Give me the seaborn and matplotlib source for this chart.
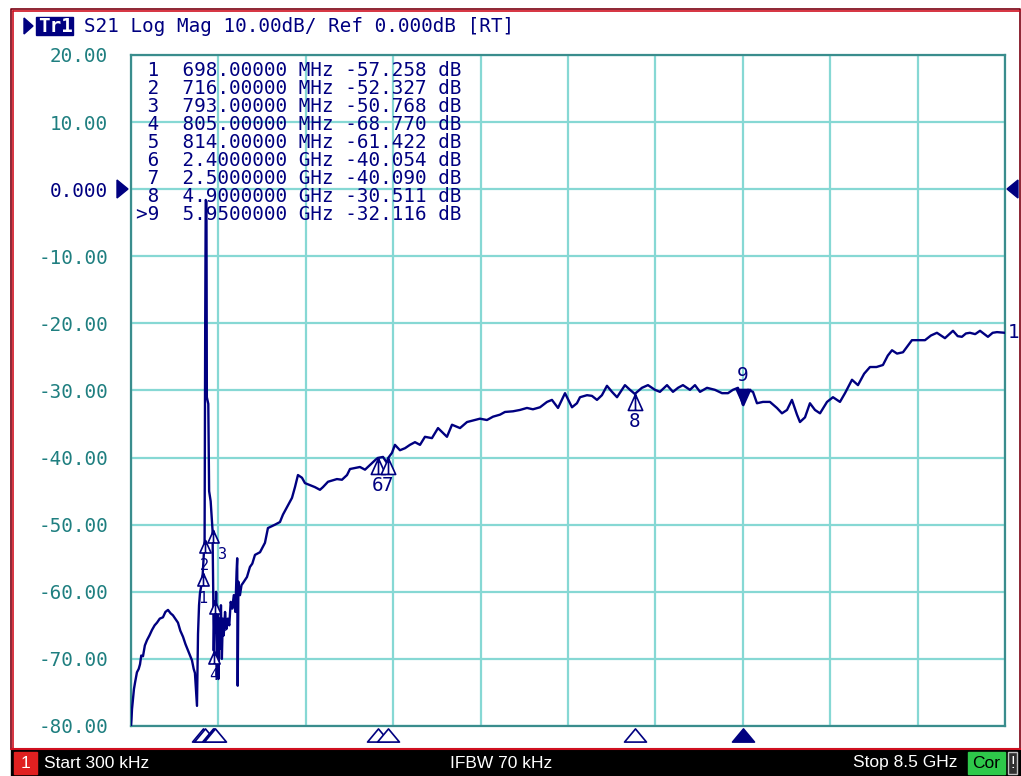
import numpy as np
import pandas as pd
import matplotlib.pyplot as plt
import seaborn as sns
import matplotlib.transforms as mtransforms
from matplotlib.path import Path
from matplotlib.patches import Rectangle, Polygon

# S21 trace (GHz, dB)
freq_ghz = [0.0003, 0.005, 0.010, 0.020, 0.029, 0.040, 0.058, 0.075, 0.088, 0.100,
            0.117, 0.135, 0.156, 0.180, 0.204, 0.230, 0.253, 0.280, 0.311, 0.335,
            0.360, 0.385, 0.408, 0.430, 0.457, 0.480, 0.506, 0.530, 0.554, 0.575,
            0.593, 0.610, 0.622, 0.632, 0.642, 0.648, 0.652, 0.662, 0.671, 0.685,
            0.698, 0.716, 0.722, 0.727, 0.734, 0.738, 0.752, 0.760, 0.775, 0.793,
            0.800, 0.805, 0.814, 0.822, 0.828, 0.835, 0.842, 0.850, 0.858, 0.866,
            0.875, 0.884, 0.893, 0.902, 0.915, 0.928, 0.942, 0.956, 0.970, 0.985,
            1.000, 1.015, 1.027, 1.033, 1.038, 1.045, 1.060, 1.075, 1.089, 1.128,
            1.157, 1.180, 1.206, 1.255, 1.303, 1.332, 1.400, 1.449, 1.478, 1.527,
            1.566, 1.595, 1.624, 1.663, 1.692, 1.741, 1.789, 1.838, 1.867, 1.916,
            2.003, 2.052, 2.101, 2.130, 2.227, 2.276, 2.324, 2.380, 2.400, 2.451,
            2.490, 2.500, 2.538, 2.567, 2.616, 2.665, 2.713, 2.762, 2.811, 2.859,
            2.927, 2.986, 3.073, 3.122, 3.200, 3.268, 3.345, 3.394, 3.462, 3.521,
            3.589, 3.637, 3.715, 3.783, 3.851, 3.909, 3.978, 4.046, 4.094, 4.153,
            4.221, 4.289, 4.337, 4.367, 4.435, 4.483, 4.532, 4.580, 4.629, 4.678,
            4.727, 4.804, 4.853, 4.900, 4.969, 5.028, 5.096, 5.144, 5.213, 5.271,
            5.320, 5.368, 5.436, 5.485, 5.534, 5.602, 5.679, 5.748, 5.806, 5.854,
            5.903, 5.930, 5.950, 5.975, 6.000, 6.049, 6.088, 6.146, 6.214, 6.282,
            6.331, 6.380, 6.428, 6.477, 6.506, 6.555, 6.603, 6.652, 6.701, 6.769,
            6.827, 6.895, 6.944, 7.012, 7.070, 7.130, 7.187, 7.250, 7.313, 7.360,
            7.401, 7.450, 7.508, 7.595, 7.722, 7.780, 7.838, 7.916, 7.994, 8.040,
            8.081, 8.120, 8.159, 8.210, 8.257, 8.334, 8.380, 8.422, 8.500]
s21_db = [-80.0, -79.0, -77.5, -76.0, -74.5, -73.5, -72.0, -71.5, -70.8, -69.5,
          -69.6, -68.0, -67.2, -66.5, -65.7, -65.0, -64.6, -64.0, -63.8, -63.0,
          -62.7, -63.2, -63.5, -64.0, -64.6, -65.8, -66.7, -67.8, -68.7, -69.5,
          -70.2, -71.5, -72.1, -74.6, -77.0, -70.0, -66.3, -62.0, -60.2, -59.0,
          -57.258, -52.327, -20.0, -1.6, -1.8, -31.0, -32.0, -45.0, -46.5, -50.768,
          -60.0, -68.770, -61.422, -66.0, -60.0, -72.5, -63.0, -73.0, -64.0, -68.5,
          -62.0, -70.0, -64.0, -66.5, -63.0, -65.5, -64.0, -65.0, -61.5, -62.5,
          -60.5, -63.0, -57.0, -55.0, -74.0, -58.5, -60.5, -59.0, -58.7, -57.8,
          -56.3, -55.8, -54.5, -54.1, -52.7, -50.5, -50.0, -49.6, -48.5, -47.1,
          -46.0, -44.4, -42.6, -43.0, -43.8, -44.1, -44.4, -44.8, -44.4, -43.6,
          -43.2, -43.3, -42.6, -41.7, -41.4, -41.8, -41.1, -40.3, -40.054, -39.9,
          -40.8, -40.090, -39.3, -38.1, -38.9, -38.6, -38.1, -37.7, -38.1, -36.9,
          -37.1, -35.6, -36.9, -35.1, -35.6, -34.7, -34.4, -34.2, -34.4, -33.9,
          -33.6, -33.2, -33.1, -32.9, -32.6, -32.8, -32.5, -31.7, -31.4, -32.6,
          -30.4, -32.5, -31.9, -31.0, -30.7, -30.8, -31.4, -30.7, -29.3, -30.2,
          -31.0, -29.2, -29.9, -30.511, -29.6, -29.2, -29.9, -30.2, -29.2, -30.2,
          -29.6, -29.2, -29.9, -29.2, -30.2, -29.6, -29.9, -30.4, -30.4, -29.9,
          -29.6, -31.0, -32.116, -30.8, -29.9, -30.2, -31.9, -31.7, -31.7, -32.6,
          -33.4, -32.9, -31.4, -33.6, -34.7, -34.0, -31.9, -32.9, -33.4, -31.7,
          -31.0, -31.7, -30.4, -28.4, -29.2, -27.5, -26.5, -26.5, -26.2, -24.8,
          -24.0, -24.5, -24.3, -22.5, -22.5, -21.8, -21.4, -22.2, -21.1, -21.9,
          -22.0, -21.5, -21.4, -21.6, -21.1, -22.0, -21.4, -21.3, -21.4]

# marker table
marker_ids = ['1', '2', '3', '4', '5', '6', '7', '8', '9']
marker_freq = [0.698, 0.716, 0.793, 0.805, 0.814, 2.4, 2.5, 4.9, 5.95]
marker_db = [-57.258, -52.327, -50.768, -68.770, -61.422, -40.054, -40.090, -30.511, -32.116]
active_marker = '9'

start_ghz, stop_ghz = 0.0003, 8.5
y_ticks = [20, 10, 0, -10, -20, -30, -40, -50, -60, -70, -80]
y_tick_labels = ['20.00', '10.00', '0.000', '-10.00', '-20.00', '-30.00',
                 '-40.00', '-50.00', '-60.00', '-70.00', '-80.00']

NAVY = '#000080'
TEAL_TXT = '#1f7f80'
GRID = '#86d8d4'
SPINE = '#3a8d8d'
MONO = 13.9

sns.set_style('white')
plt.rcParams['font.family'] = ['DejaVu Sans Mono', 'DejaVu Sans']

W, H = 1021, 776
fig = plt.figure(figsize=(W / 100, H / 100), dpi=100)
fig.patch.set_facecolor('white')

L, T, R, B = 131, 55, 1005, 726
ax = fig.add_axes([L / W, 1 - B / H, (R - L) / W, (B - T) / H])

trace = pd.DataFrame({'Frequency (GHz)': freq_ghz, 'S21 (dB)': s21_db})
sns.lineplot(data=trace, x='Frequency (GHz)', y='S21 (dB)', ax=ax, color=NAVY,
             lw=1.7, estimator=None, sort=False, zorder=5)

ax.set_xlim(start_ghz, stop_ghz)
ax.set_ylim(-80, 20)
ax.set_xticks(np.linspace(start_ghz, stop_ghz, 11))
ax.set_xticklabels([])
ax.set_yticks(y_ticks)
ax.set_yticklabels(y_tick_labels)
ax.tick_params(axis='y', length=0, pad=16.5, labelsize=MONO, labelcolor=TEAL_TXT)
ax.tick_params(axis='x', length=0)
ax.grid(True, color=GRID, lw=1.6)
ax.set_xlabel('')
ax.set_ylabel('')
for s in ax.spines.values():
    s.set_color(SPINE)
    s.set_linewidth(1.6)
for lbl in ax.get_yticklabels():
    if lbl.get_text() == '0.000':
        lbl.set_color(NAVY)

# marker symbols on the trace
up_tri = Path([(0, 0), (-0.45, -1), (0.45, -1), (0, 0), (0, 0), (0, -1)],
              [Path.MOVETO, Path.LINETO, Path.LINETO, Path.CLOSEPOLY, Path.MOVETO, Path.LINETO])
down_tri = Path([(0, 0), (-0.45, 1), (0.45, 1), (0, 0)],
                [Path.MOVETO, Path.LINETO, Path.LINETO, Path.CLOSEPOLY])
ind_tri = Path([(0, 0.6), (-1, -0.6), (1, -0.6), (0, 0.6)],
               [Path.MOVETO, Path.LINETO, Path.LINETO, Path.CLOSEPOLY])
trans = mtransforms.blended_transform_factory(ax.transData, ax.transAxes)

for mid, f, db in zip(marker_ids, marker_freq, marker_db):
    active = mid == active_marker
    crowded = f < 1  # markers 1-5 sit on top of each other near 0.7-0.8 GHz
    ms = 18 if crowded else 23
    fs = 11 if crowded else MONO
    if active:
        ax.plot(f, db, marker=down_tri, ms=ms, mfc=NAVY, mec=NAVY, mew=1.2, zorder=6)
        ax.annotate(mid, (f, db), xytext=(0, 21), textcoords='offset points',
                    ha='center', va='center', color=NAVY, fontsize=fs, zorder=7)
    else:
        ax.plot(f, db, marker=up_tri, ms=ms, mfc='white', mec=NAVY, mew=1.2, zorder=6)
        dx = 7 if mid in ('3', '5') else 0
        ax.annotate(mid, (f, db), xytext=(dx, -18 if crowded else -20),
                    textcoords='offset points', ha='center', va='center',
                    color=NAVY, fontsize=fs, zorder=7)
    ax.plot(f, -0.0127, marker=ind_tri, ms=15.8, mfc=NAVY if active else 'white',
            mec=NAVY, mew=1.2, transform=trans, clip_on=False, zorder=6)

ax.annotate('1', (freq_ghz[-1], s21_db[-1]), xytext=(2, 0), textcoords='offset points',
            ha='left', va='center', color=NAVY, fontsize=MONO, annotation_clip=False)

# overlay in screen pixels for the instrument chrome
ov = fig.add_axes([0, 0, 1, 1], zorder=10)
ov.set_xlim(0, W)
ov.set_ylim(H, 0)
ov.axis('off')
ov.patch.set_visible(False)

for i, (mid, f, db) in enumerate(zip(marker_ids, marker_freq, marker_db)):
    prefix = '>' if mid == active_marker else ' '
    if f < 1:
        ftxt, unit = f'{f * 1000:.5f}', 'MHz'
    else:
        ftxt, unit = f'{f:.7f}', 'GHz'
    row = f'{prefix}{mid}  {ftxt} {unit} {db:.3f} dB'
    ov.text(136.4, 70 + i * 18.1, row, ha='left', va='center', color=NAVY, fontsize=MONO)

# title line
ov.add_patch(Polygon([(24, 18), (24, 34), (33, 26)], closed=True, color=NAVY))
ov.add_patch(Rectangle((36, 17), 37, 18, color=NAVY))
ov.text(38, 26, 'Tr1', ha='left', va='center', color='white', fontsize=MONO, fontweight='bold')
ov.text(84.4, 26, 'S21 Log Mag 10.00dB/ Ref 0.000dB [RT]', ha='left', va='center',
        color=NAVY, fontsize=MONO)

# window frame
ov.plot([11, 11, 1019.5, 1019.5], [749, 9, 9, 749], color='#7a0010', lw=1.2)
ov.plot([13, 13], [749, 11], color='#d01020', lw=1.2)
ov.plot([13, 1019.5], [11, 11], color='#d01020', lw=1.2)

# reference level arrows
ov.add_patch(Polygon([(117, 180), (117, 198), (128, 189)], closed=True, color=NAVY, zorder=5))
ov.add_patch(Polygon([(1018, 180), (1018, 198), (1007, 189)], closed=True, color=NAVY, zorder=5))

# status bar
ov.add_patch(Rectangle((11, 749), W - 11, H - 749, color='black'))
ov.plot([11, W], [749, 749], color='#d01020', lw=1.5)
ov.add_patch(Rectangle((14, 752), 23, 22, color='#e02020'))
ov.text(25.5, 763, '1', ha='center', va='center', color='white', fontsize=12.5, family='Liberation Sans')
ov.text(44, 763, 'Start 300 kHz', ha='left', va='center', color='white', fontsize=12.5, family='Liberation Sans')
ov.text(501, 763, 'IFBW 70 kHz', ha='center', va='center', color='white', fontsize=12.5, family='Liberation Sans')
ov.text(957, 763, 'Stop 8.5 GHz', ha='right', va='center', color='white', fontsize=12.5, family='Liberation Sans')
ov.add_patch(Rectangle((968, 752), 37, 22, color='#2ec84a'))
ov.text(986.5, 763, 'Cor', ha='center', va='center', color='black', fontsize=12.5, family='Liberation Sans')
ov.add_patch(Rectangle((1008, 752), 9, 22, facecolor='#303030', edgecolor='#c0c0c0', lw=1))
ov.text(1012.5, 763, '!', ha='center', va='center', color='white', fontsize=12, family='Liberation Sans')

fig.savefig('out.png', dpi=100)
